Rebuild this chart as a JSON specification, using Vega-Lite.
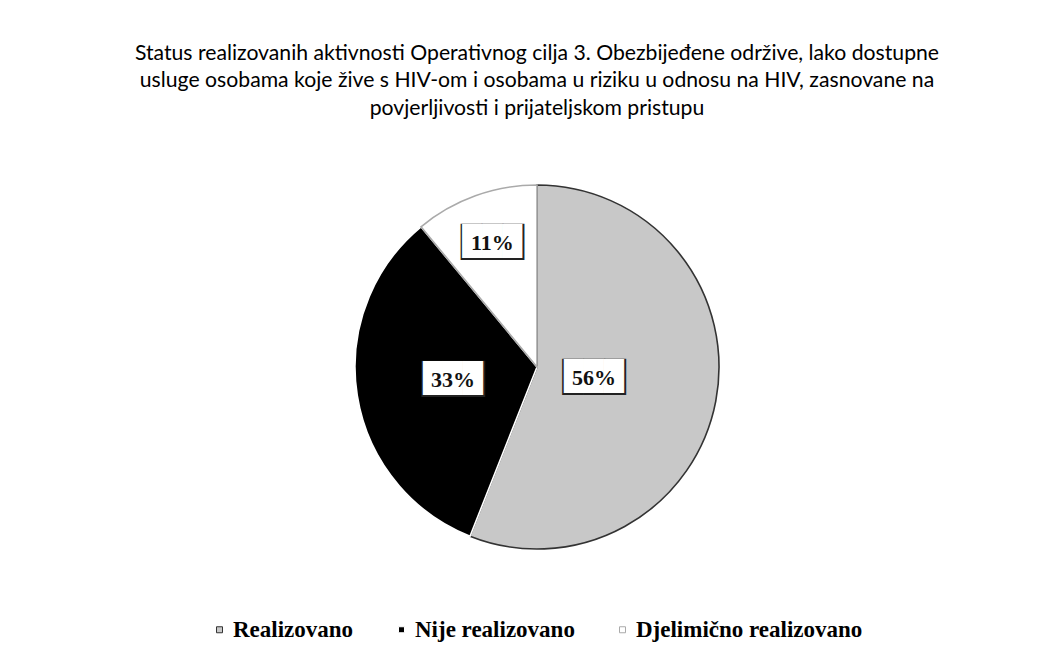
{
  "$schema": "https://vega.github.io/schema/vega-lite/v6.json",
  "autosize": {"type": "none"},
  "width": 1006,
  "height": 412,
  "padding": {"left": 34, "top": 161, "right": 0, "bottom": 85},
  "background": "white",
  "title": {
    "text": [
      "Status realizovanih  aktivnosti Operativnog cilja 3. Obezbijeđene održive, lako dostupne",
      "usluge osobama koje žive s HIV-om i osobama u riziku u odnosu na HIV, zasnovane na",
      "povjerljivosti i prijateljskom pristupu"
    ],
    "font": "Lato",
    "fontSize": 21.2,
    "fontWeight": "normal",
    "color": "#000000",
    "anchor": "middle",
    "offset": 42,
    "lineHeight": 27.5
  },
  "data": {
    "values": [
      {"status": "Realizovano", "value": 56, "label": "56%"},
      {"status": "Nije realizovano", "value": 33, "label": "33%"},
      {"status": "Djelimično realizovano", "value": 11, "label": "11%"}
    ]
  },
  "encoding": {
    "theta": {"field": "value", "type": "quantitative", "stack": true},
    "order": {"field": "value", "type": "quantitative", "sort": "descending"},
    "detail": {"field": "status", "type": "nominal"}
  },
  "layer": [
    {
      "mark": {"type": "arc", "outerRadius": 182, "strokeWidth": 1.6},
      "encoding": {
        "color": {
          "field": "status",
          "type": "nominal",
          "sort": ["Realizovano", "Nije realizovano", "Djelimično realizovano"],
          "scale": {
            "domain": ["Realizovano", "Nije realizovano", "Djelimično realizovano"],
            "range": ["#c8c8c8", "#000000", "#ffffff"]
          },
          "legend": {
            "orient": "none",
            "legendX": 174,
            "legendY": 457,
            "direction": "horizontal",
            "title": null,
            "labelFont": "Liberation Serif",
            "labelFontSize": 23,
            "labelFontWeight": "bold",
            "labelColor": "#000000",
            "labelLimit": 0,
            "labelOffset": 2,
            "symbolType": "square",
            "symbolSize": 36,
            "symbolStrokeColor": "#555555",
            "symbolStrokeWidth": 1,
            "columnPadding": 36
          }
        },
        "stroke": {
          "field": "status",
          "type": "nominal",
          "scale": {
            "domain": ["Realizovano", "Nije realizovano", "Djelimično realizovano"],
            "range": ["#333333", "#ffffff", "#aaaaaa"]
          },
          "legend": null
        }
      }
    },
    {
      "mark": {"type": "text", "font": "DejaVu Sans Mono", "fontSize": 35, "color": "#222222", "text": "▇▇▇", "baseline": "middle", "dy": -3},
      "encoding": {
        "radius": {"field": "value", "type": "quantitative", "scale": {"type": "linear", "domain": [11, 33, 56], "range": [132, 85, 58], "zero": false}}
      }
    },
    {
      "mark": {"type": "text", "font": "DejaVu Sans Mono", "fontSize": 33, "color": "#ffffff", "text": "▇▇▇", "baseline": "middle", "dy": -3},
      "encoding": {
        "radius": {"field": "value", "type": "quantitative", "scale": {"type": "linear", "domain": [11, 33, 56], "range": [132, 85, 58], "zero": false}}
      }
    },
    {
      "mark": {"type": "text", "font": "Liberation Serif", "fontSize": 22, "fontWeight": "bold", "color": "#111111", "baseline": "middle"},
      "encoding": {
        "radius": {"field": "value", "type": "quantitative", "scale": {"type": "linear", "domain": [11, 33, 56], "range": [132, 85, 58], "zero": false}},
        "text": {"field": "label", "type": "nominal"}
      }
    }
  ]
}
